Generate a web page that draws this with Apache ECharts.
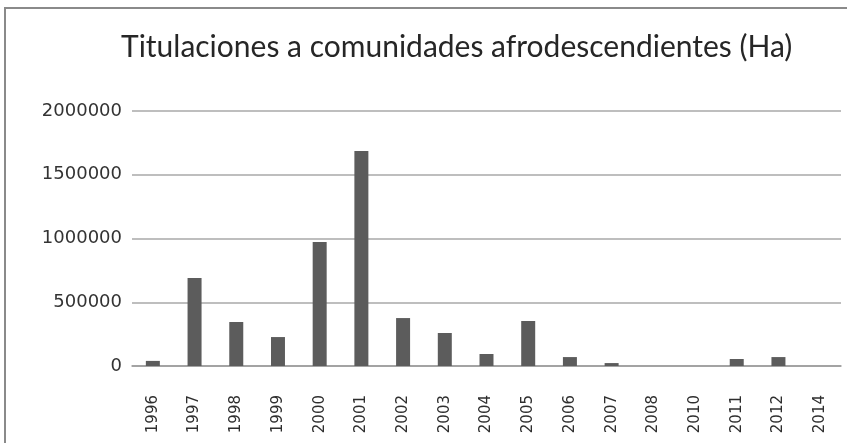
<!DOCTYPE html>
<html>
<head>
<meta charset="utf-8">
<script src="https://cdn.jsdelivr.net/npm/echarts@6/dist/echarts.min.js"></script>
<style>html,body{margin:0;padding:0;background:#fff}#c{width:847px;height:443px}</style>
</head>
<body>
<div id="c"></div>
<script>
const titleText = 'Titulaciones a comunidades afrodescendientes (Ha)';
const years = ['1996','1997','1998','1999','2000','2001','2002','2003','2004','2005','2006','2007','2008','2010','2011','2012','2014'];
const hectares = [40000, 690000, 345000, 227000, 973000, 1686000, 376000, 259000, 94000, 353000, 70000, 23000, 0, 0, 55000, 70000, 0];
const yTicks = [0, 500000, 1000000, 1500000, 2000000];

const chart = echarts.init(document.getElementById('c'));
chart.setOption({
  animation: false,
  backgroundColor: '#ffffff',
  title: {
    text: titleText,
    left: 116,
    top: 27,
    textStyle: { fontFamily: 'Lato', fontWeight: 'normal', fontSize: 30, color: '#262626' }
  },
  graphic: [{
    type: 'rect',
    shape: { x: 5, y: 8, width: 860, height: 460 },
    style: { fill: 'none', stroke: '#8a8a8a', lineWidth: 2 },
    silent: true
  }],
  grid: { left: 132, right: 6, top: 111, bottom: 77, containLabel: false },
  xAxis: {
    type: 'category',
    data: years,
    axisLine: { show: true, lineStyle: { color: '#9a9a9a', width: 1.5 } },
    axisTick: { show: false },
    axisLabel: { rotate: 90, margin: 29, fontFamily: 'DejaVu Sans', fontSize: 15, color: '#2e2e2e' }
  },
  yAxis: {
    type: 'value',
    min: yTicks[0],
    max: yTicks[yTicks.length - 1],
    interval: 500000,
    axisLine: { show: false },
    axisTick: { show: false },
    splitLine: { lineStyle: { color: '#a8a8a8', width: 1.5 } },
    axisLabel: { margin: 10, fontFamily: 'DejaVu Sans', fontSize: 18, color: '#333333', formatter: v => String(v) }
  },
  series: [{
    type: 'bar',
    data: hectares,
    barWidth: 14,
    itemStyle: { color: '#5c5c5c' }
  }]
});
</script>
</body>
</html>
